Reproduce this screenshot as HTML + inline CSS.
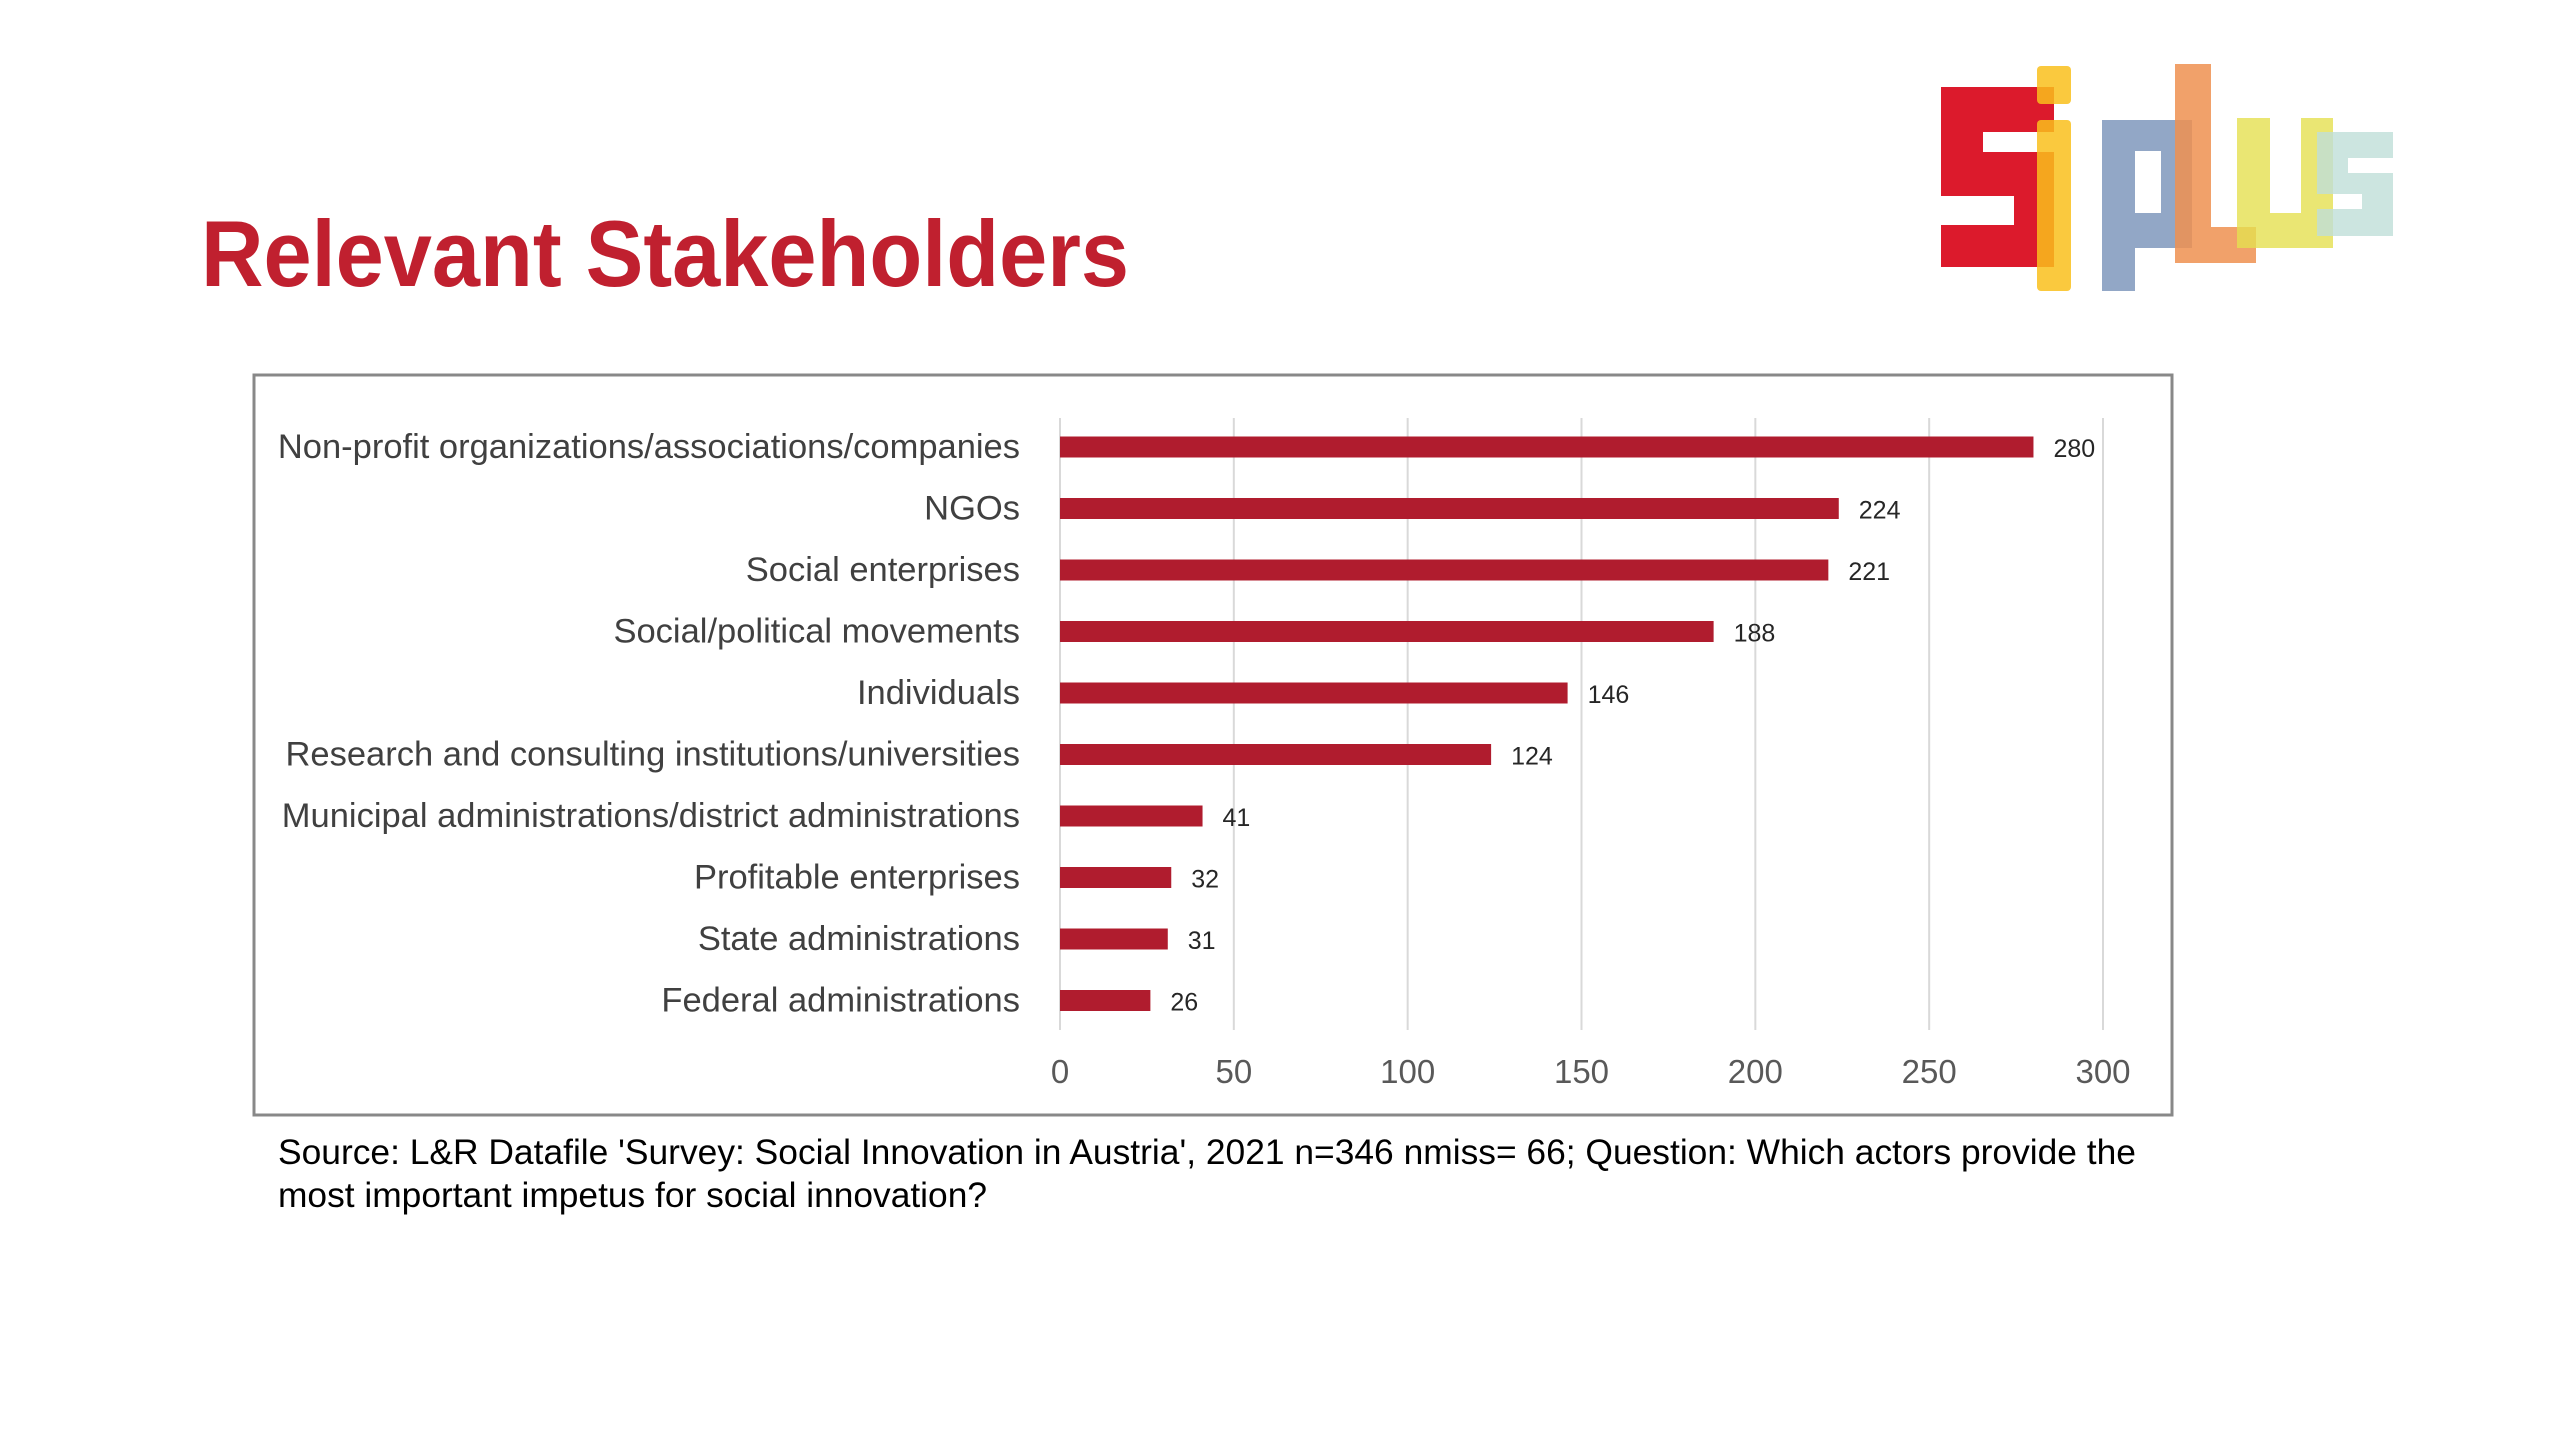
<!DOCTYPE html>
<html><head><meta charset="utf-8"><style>
html,body{margin:0;padding:0;background:#fff;}
svg{display:block;font-family:"Liberation Sans",sans-serif;}
</style></head><body>
<svg width="2560" height="1440" viewBox="0 0 2560 1440">
<text x="201" y="286" font-size="94" font-weight="bold" fill="#c0202f" textLength="928" lengthAdjust="spacingAndGlyphs">Relevant Stakeholders</text>
<g>
  <path d="M1941 87h113v45h-71v20h71v115h-113v-42h73v-29h-73z" fill="#dc1a2c"/>
  <rect x="2037" y="66" width="34" height="38" rx="4" fill="#f9c01c" opacity="0.85"/>
  <rect x="2037" y="120" width="34" height="171" rx="4" fill="#f9c01c" opacity="0.85"/>
  <path d="M2102 120h90v128h-57v43h-33zM2135 151v62h26v-62z" fill="#7f98bc" fill-rule="evenodd" opacity="0.85"/>
  <path d="M2175 64h36v163h45v36h-81z" fill="#ee9050" opacity="0.85"/>
  <path d="M2237 118h33v95h31v-95h32v130h-96z" fill="#e5e050" opacity="0.8"/>
  <path d="M2317 132h76v26h-45v15h45v63h-76v-27h45v-15h-45z" fill="#bfded8" opacity="0.8"/>
</g>
<rect x="254" y="375" width="1918" height="740" fill="#fff" stroke="#888" stroke-width="3"/>
<g id="chart"></g>
<text x="278" y="1164" font-size="35" fill="#000" textLength="1858" lengthAdjust="spacingAndGlyphs">Source: L&amp;R Datafile 'Survey: Social Innovation in Austria', 2021 n=346 nmiss= 66; Question: Which actors provide the</text>
<text x="278" y="1207" font-size="35" fill="#000" textLength="709" lengthAdjust="spacingAndGlyphs">most important impetus for social innovation?</text>
</svg>
<script>
const categories=["Non-profit organizations/associations/companies","NGOs","Social enterprises","Social/political movements","Individuals","Research and consulting institutions/universities","Municipal administrations/district administrations","Profitable enterprises","State administrations","Federal administrations"];
const values=[280,224,221,188,146,124,41,32,31,26];
const ticks=[0,50,100,150,200,250,300];
const NS="http://www.w3.org/2000/svg";
const g=document.getElementById('chart');
const x0=1060,x1=2103,xmax=300;
const xs=v=>x0+(x1-x0)*v/xmax;
const rowTop=417,rowStep=61.5;
const ys=i=>rowTop+rowStep*i+30;
function el(t,a){const e=document.createElementNS(NS,t);for(const k in a)e.setAttribute(k,a[k]);g.appendChild(e);return e;}
ticks.forEach(t=>{
  const l=el('line',{x1:xs(t),x2:xs(t),y1:418,y2:1030,stroke:'#d9d9d9','stroke-width':2});
  
  
  const tx=el('text',{x:xs(t),y:1083,'font-size':33,fill:'#595959','text-anchor':'middle'});
  tx.textContent=t;
  
  
});
categories.forEach((c,i)=>{
  const y=ys(i);
  const b=el('rect',{x:x0,y:y-10.5,width:xs(values[i])-x0,height:21,fill:'#b01c2e'});
  
  
  const lb=el('text',{x:1020,y:y+11,'font-size':34.5,fill:'#404040','text-anchor':'end'});
  lb.textContent=c;
  
  
  const v=el('text',{x:xs(values[i])+20,y:y+10,'font-size':25,fill:'#262626'});
  v.textContent=values[i];
  
  
});
</script>
</body></html>
